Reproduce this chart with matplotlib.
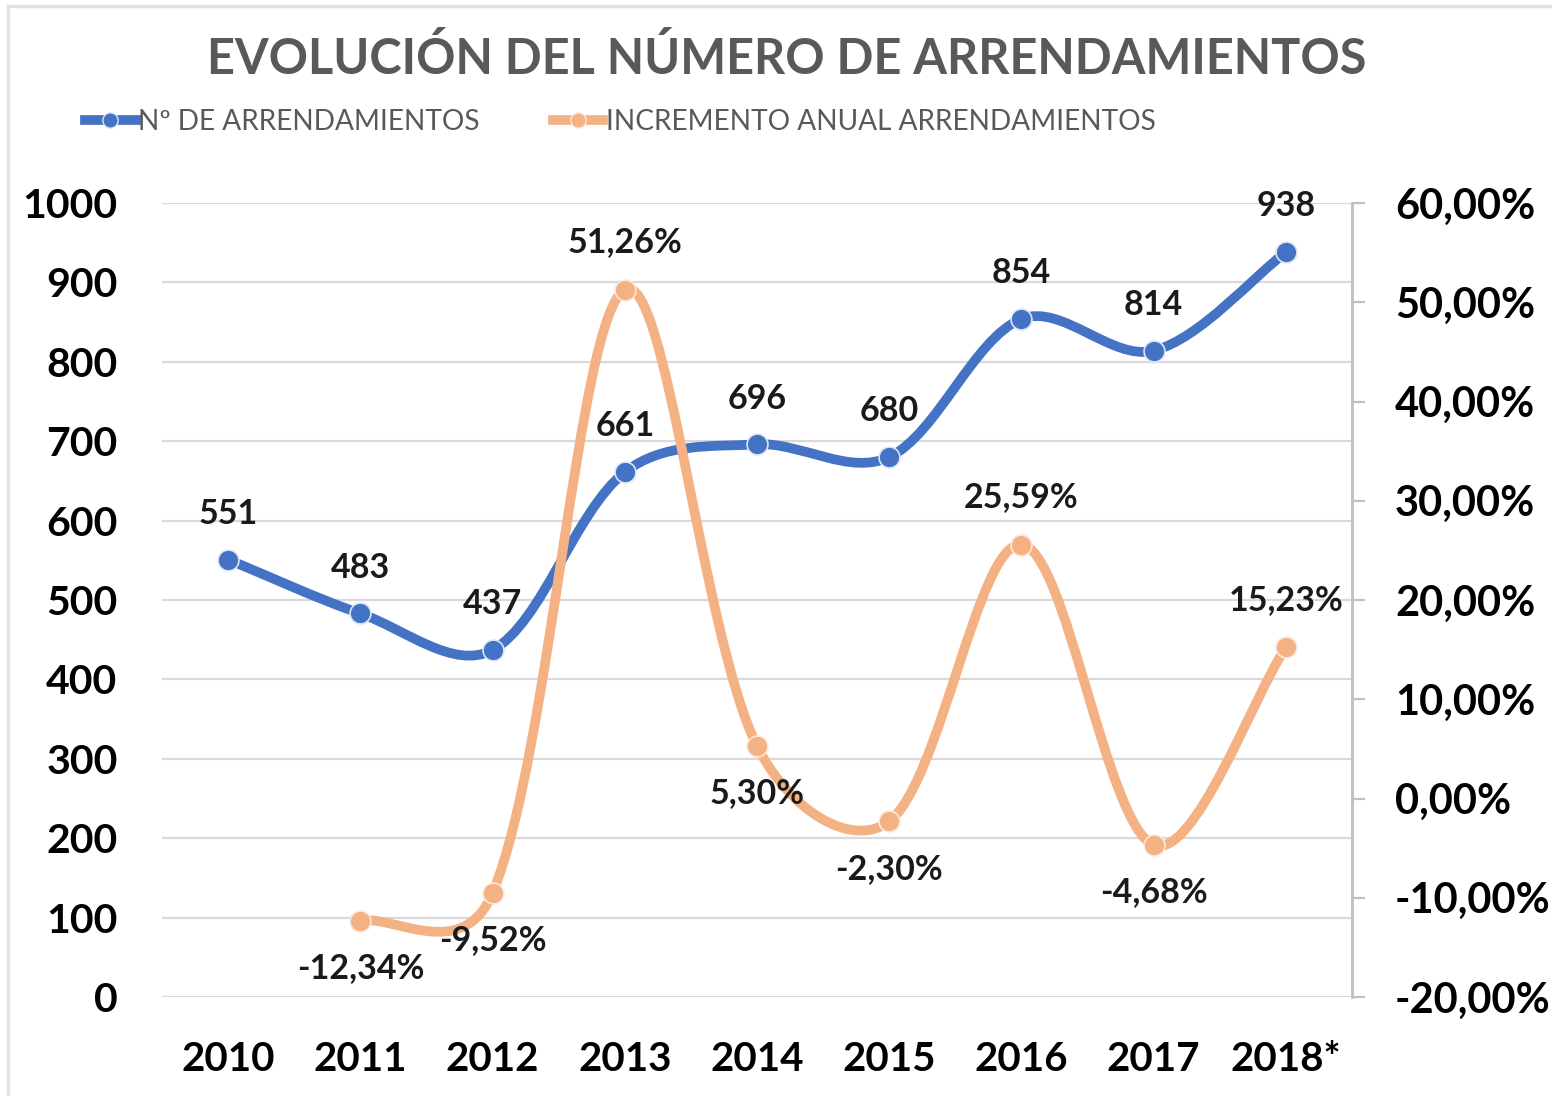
import matplotlib
matplotlib.use("Agg")
import math
import matplotlib.pyplot as plt
from matplotlib.path import Path
from matplotlib.patches import PathPatch
from matplotlib.lines import Line2D
from matplotlib.ticker import FuncFormatter

plt.rcParams["font.family"] = ["Lato", "DejaVu Sans"]

# data
years = ["2010", "2011", "2012", "2013", "2014", "2015", "2016", "2017", "2018*"]
arrendamientos = [551, 483, 437, 661, 696, 680, 854, 814, 938]
incremento = [None, -12.34, -9.52, 51.26, 5.30, -2.30, 25.59, -4.68, 15.23]
# label side for the increment series: 1 above, -1 below
incr_side = [0, -1, -1, 1, -1, -1, 1, -1, 1]

BLUE = "#4472C4"
ORANGE = "#F4B183"
GREY_TXT = "#595959"


def smooth_path(xs, ys, sx, sy):
    # excel-like smoothed line: cubic bezier, tangents damped by segment length
    # (sx, sy = pixels per data unit, so lengths are measured on screen)
    pts = list(zip(xs, ys))
    n = len(pts)

    def dist(a, b):
        return math.hypot((b[0] - a[0]) * sx, (b[1] - a[1]) * sy)

    verts = [pts[0]]
    codes = [Path.MOVETO]
    for i in range(n - 1):
        p0 = pts[i - 1] if i > 0 else pts[i]
        p1 = pts[i]
        p2 = pts[i + 1]
        p3 = pts[i + 2] if i + 2 < n else pts[i + 1]
        d01, d12, d23 = dist(p0, p1), dist(p1, p2), dist(p2, p3)
        w1 = 0.5 + d12 / (d01 + d12)
        w2 = 0.5 + d12 / (d12 + d23)
        c1 = (p1[0] + w1 * (p2[0] - p0[0]) / 6, p1[1] + w1 * (p2[1] - p0[1]) / 6)
        c2 = (p2[0] - w2 * (p3[0] - p1[0]) / 6, p2[1] - w2 * (p3[1] - p1[1]) / 6)
        verts += [c1, c2, p2]
        codes += [Path.CURVE4] * 3
    return Path(verts, codes)


fig = plt.figure(figsize=(15.52, 10.96), dpi=100)
ax = fig.add_axes([162 / 1552, 1 - 997 / 1096, 1190 / 1552, 794 / 1096])
ax2 = ax.twinx()

x = list(range(len(years)))
px_x = 1190 / len(years)

# primary series
ax.add_patch(PathPatch(smooth_path(x, arrendamientos, px_x, 794 / 1000), fill=False,
                       edgecolor=BLUE, lw=7, capstyle="round", zorder=3))
ax.plot(x, arrendamientos, "o", color=BLUE, ms=15, mec="#DCE6F5", mew=1.2, zorder=4)
for xi, v in zip(x, arrendamientos):
    ax.annotate(str(v), (xi, v), xytext=(0, 33), textcoords="offset points",
                ha="center", va="center", fontsize=24.5, fontweight="bold",
                color="#1a1a1a", zorder=5)

ax.set_xlim(-0.5, len(years) - 0.5)
ax.set_ylim(0, 1000)
ax.set_yticks(range(0, 1001, 100))
ax.set_xticks(x)
ax.set_xticklabels(years)
ax.grid(axis="y", color="#D9D9D9", lw=1.6)
ax.set_axisbelow(True)
for s in ax.spines.values():
    s.set_visible(False)
ax.tick_params(axis="y", length=0, pad=32, labelsize=29.5, labelcolor="black")
ax.tick_params(axis="x", length=0, pad=32, labelsize=29, labelcolor="black")
for lab in ax.get_yticklabels() + ax.get_xticklabels():
    lab.set_fontweight("bold")

# secondary series
ix = [xi for xi, v in zip(x, incremento) if v is not None]
iv = [v for v in incremento if v is not None]
ax2.add_patch(PathPatch(smooth_path(ix, iv, px_x, 794 / 80), fill=False,
                        edgecolor=ORANGE, lw=7, capstyle="round", zorder=3))
ax2.plot(ix, iv, "o", color=ORANGE, ms=15, mec="#FCE9DC", mew=1.2, zorder=4)
for xi, v, side in zip(x, incremento, incr_side):
    if v is None:
        continue
    lbl = f"{v:.2f}%".replace(".", ",")
    ax2.annotate(lbl, (xi, v), xytext=(0, 34 * side), textcoords="offset points",
                 ha="center", va="center", fontsize=24.5, fontweight="bold",
                 color="#1a1a1a", zorder=5)

ax2.set_ylim(-20, 60)
ax2.set_yticks(range(-20, 61, 10))
ax2.yaxis.set_major_formatter(FuncFormatter(lambda v, p: f"{v:.2f}%".replace(".", ",")))
for k, s in ax2.spines.items():
    s.set_visible(k == "right")
ax2.spines["right"].set_color("#BFBFBF")
ax2.spines["right"].set_linewidth(2)
ax2.tick_params(axis="y", direction="out", length=9, width=1.6, color="#BFBFBF",
                pad=22, labelsize=30, labelcolor="black")
for lab in ax2.get_yticklabels():
    lab.set_fontweight("bold")

# title and legend
fig.text(787 / 1552, 1 - 58 / 1096, "EVOLUCIÓN DEL NÚMERO DE ARRENDAMIENTOS",
         ha="center", va="center", fontsize=35, fontweight="bold", color=GREY_TXT)
handles = [
    Line2D([], [], color=BLUE, lw=7, marker="o", ms=11, mec="#DCE6F5"),
    Line2D([], [], color=ORANGE, lw=7, marker="o", ms=11, mec="#FCE9DC"),
]
fig.legend(handles, ["Nº DE ARRENDAMIENTOS", "INCREMENTO ANUAL ARRENDAMIENTOS"],
           loc="center left", bbox_to_anchor=(85 / 1552, 1 - 122 / 1096), ncol=2,
           frameon=False, fontsize=20.2, labelcolor=GREY_TXT, handlelength=1.8,
           handletextpad=0.1, columnspacing=2.6, borderpad=0, borderaxespad=0)

# chart border
fig.add_artist(Line2D([8 / 1552, 8 / 1552], [0, 1 - 6 / 1096], color="#E3E3E3", lw=2.5))
fig.add_artist(Line2D([8 / 1552, 1], [1 - 6 / 1096, 1 - 6 / 1096], color="#E3E3E3", lw=2.5))

fig.savefig("out.png", dpi=100, facecolor="white")
